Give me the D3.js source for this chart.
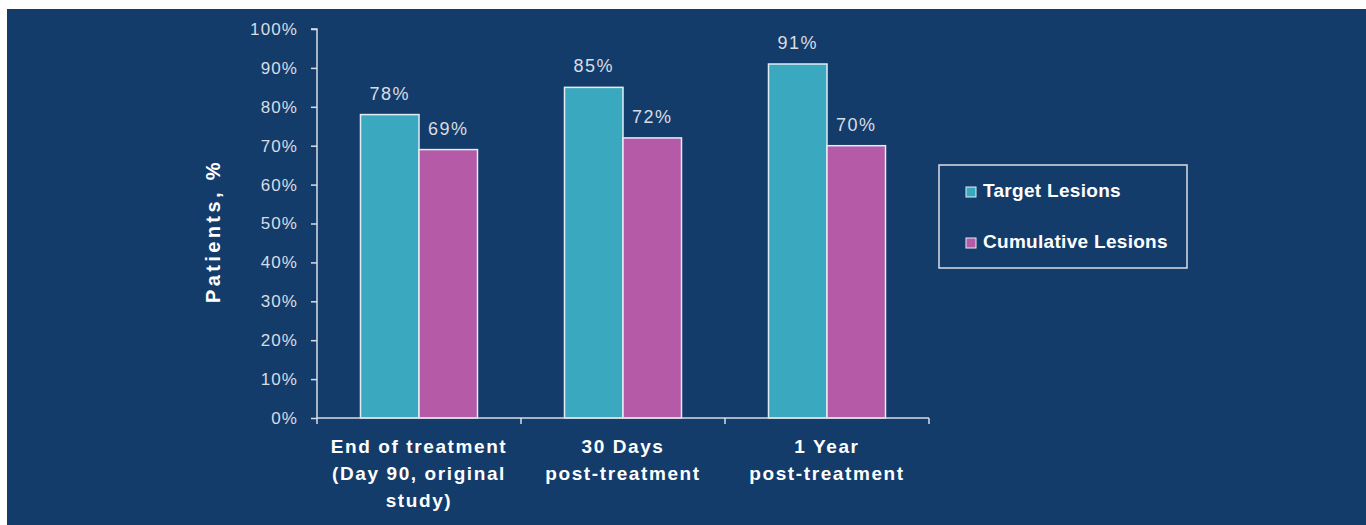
<!DOCTYPE html>
<html>
<head>
<meta charset="utf-8">
<script src="https://cdn.jsdelivr.net/npm/d3@7"></script>
<style>
  html, body { margin: 0; padding: 0; background: #ffffff; }
  svg { display: block; }
</style>
</head>
<body>
<svg id="chart" width="1366" height="525"></svg>
<script>
const categories = [
  ["End of treatment", "(Day 90, original", "study)"],
  ["30 Days", "post-treatment"],
  ["1 Year", "post-treatment"]
];
const categoryKeys = ["End of treatment", "30 Days", "1 Year"];
const seriesNames = ["Target Lesions", "Cumulative Lesions"];
const targetValues = [78, 85, 91];
const cumulativeValues = [69, 72, 70];
const yTicks = [0, 10, 20, 30, 40, 50, 60, 70, 80, 90, 100];
const seriesColors = ["#3aa9bf", "#b45aa7"];

const svg = d3.select("#chart");
const bg = "#143c6b";
const light = "#d9dde3";
const font = "Liberation Sans, Arial, sans-serif";

svg.append("rect").attr("x", 7).attr("y", 9).attr("width", 1366 - 7).attr("height", 525 - 9).attr("fill", bg);

const x0 = d3.scaleBand().domain(categoryKeys).range([317, 929])
  .paddingInner(0.4265).paddingOuter(0.4265 / 2);
const x1 = d3.scaleBand().domain(seriesNames).range([0, x0.bandwidth()]);
const y = d3.scaleLinear().domain([0, 100]).range([418, 29]);

const data = categoryKeys.map((c, i) => ({ cat: c, values: [targetValues[i], cumulativeValues[i]] }));

// bars
const groups = svg.append("g").selectAll("g").data(data).join("g")
  .attr("transform", d => `translate(${x0(d.cat)},0)`);
groups.selectAll("rect").data(d => d.values.map((v, j) => ({ v, s: seriesNames[j], j })))
  .join("rect")
  .attr("x", d => x1(d.s))
  .attr("y", d => y(d.v))
  .attr("width", x1.bandwidth())
  .attr("height", d => y(0) - y(d.v))
  .attr("fill", d => seriesColors[d.j])
  .attr("stroke", "#e3ecf2")
  .attr("stroke-width", 1.5);
groups.selectAll("text").data(d => d.values.map((v, j) => ({ v, s: seriesNames[j] })))
  .join("text")
  .attr("x", d => x1(d.s) + x1.bandwidth() / 2)
  .attr("y", d => y(d.v) - 15)
  .attr("text-anchor", "middle")
  .attr("font-family", font)
  .attr("font-size", 18)
  .attr("letter-spacing", 1.5)
  .attr("fill", light)
  .text(d => d.v + "%");

// y axis
const yAxis = d3.axisLeft(y).tickValues(yTicks).tickFormat(d => d + "%").tickSize(6).tickPadding(13);
const gy = svg.append("g").attr("transform", "translate(317,0)").call(yAxis);
gy.selectAll("path, line").attr("stroke", light).attr("stroke-width", 1.5);
gy.select(".domain").attr("d", `M-6,${y(100)}H0V${y(0)}`);
gy.selectAll("text").attr("fill", light).attr("font-size", 17)
  .attr("font-family", font).attr("letter-spacing", 1.1);

// x axis
const xAxis = d3.axisBottom(x0).tickSize(0).tickFormat("");
const gx = svg.append("g").attr("transform", `translate(0,${y(0)})`).call(xAxis);
gx.select(".domain").attr("stroke", light).attr("stroke-width", 1.5).attr("d", `M317,0H929`);
gx.selectAll(".sep").data(categoryKeys.concat(["end"])).join("line")
  .attr("class", "sep")
  .attr("x1", (d, i) => i < categoryKeys.length ? x0(d) - x0.step() * x0.paddingOuter() : 929)
  .attr("x2", (d, i) => i < categoryKeys.length ? x0(d) - x0.step() * x0.paddingOuter() : 929)
  .attr("y1", 0).attr("y2", 6)
  .attr("stroke", light).attr("stroke-width", 1.5);

// x labels
categories.forEach((lines, i) => {
  const cx = x0(categoryKeys[i]) + x0.bandwidth() / 2;
  const t = svg.append("text")
    .attr("text-anchor", "middle")
    .attr("font-family", font)
    .attr("font-weight", "bold")
    .attr("font-size", 19)
    .attr("letter-spacing", 1.6)
    .attr("fill", "#ffffff");
  lines.forEach((ln, k) => {
    t.append("tspan").attr("x", cx).attr("y", 453 + k * 27).text(ln);
  });
});

// y title
svg.append("text")
  .attr("transform", "translate(220,231) rotate(-90)")
  .attr("text-anchor", "middle")
  .attr("font-family", font)
  .attr("font-weight", "bold")
  .attr("font-size", 20)
  .attr("letter-spacing", 3.4)
  .attr("fill", "#ffffff")
  .text("Patients, %");

// legend
const lg = svg.append("g");
lg.append("rect").attr("x", 939).attr("y", 165).attr("width", 248).attr("height", 103)
  .attr("fill", "none").attr("stroke", light).attr("stroke-width", 1.5);
const items = lg.selectAll("g").data(seriesNames).join("g")
  .attr("transform", (d, i) => `translate(966,${197 + i * 51})`);
items.append("rect").attr("x", 0).attr("y", -10).attr("width", 10).attr("height", 10)
  .attr("fill", (d, i) => seriesColors[i]).attr("stroke", "#e3ecf2").attr("stroke-width", 1);
items.append("text").attr("x", 17).attr("y", 0)
  .attr("font-family", font)
  .attr("font-weight", "bold").attr("font-size", 19).attr("letter-spacing", 0.3)
  .attr("fill", "#ffffff")
  .text(d => d);
</script>
</body>
</html>
